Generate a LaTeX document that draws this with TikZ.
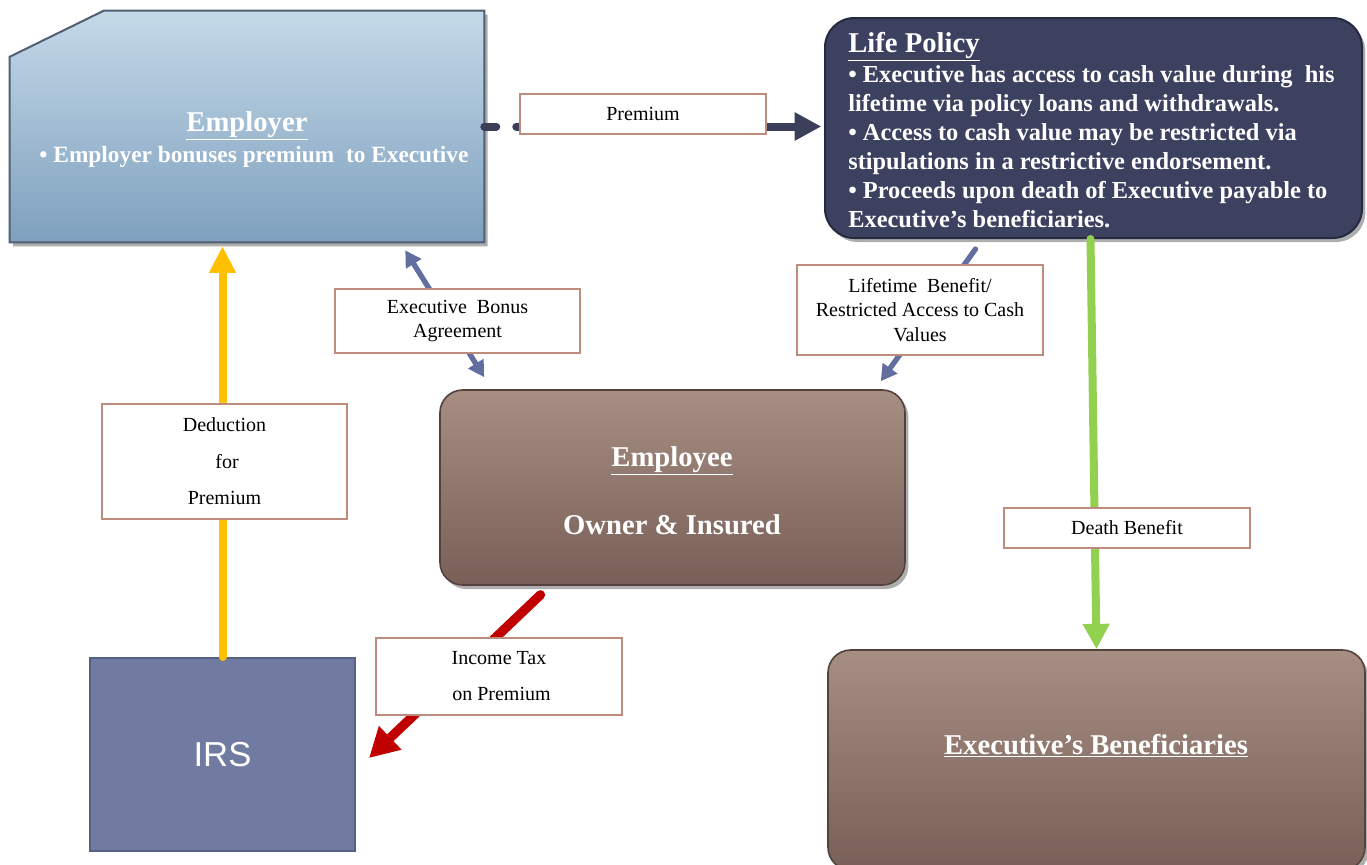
\documentclass[tikz,border=0pt]{standalone}
\usepackage{fontspec}
\setmainfont{Liberation Serif}
\newfontfamily\sansf{Liberation Sans}
\usetikzlibrary{arrows.meta,shadows,calc}
\definecolor{lblbrown}{RGB}{190,140,125}
\definecolor{empTop}{RGB}{197,217,232}
\definecolor{empBot}{RGB}{126,160,190}
\definecolor{empBorder}{RGB}{80,95,115}
\definecolor{polFill}{RGB}{61,65,96}
\definecolor{polBorder}{RGB}{38,42,62}
\definecolor{brTop}{RGB}{166,142,132}
\definecolor{brBot}{RGB}{120,96,88}
\definecolor{brBorder}{RGB}{85,65,60}
\definecolor{irsFill}{RGB}{113,122,160}
\definecolor{irsBorder}{RGB}{88,96,130}
\definecolor{slateArrow}{RGB}{98,110,160}
\definecolor{navyArrow}{RGB}{59,63,90}
\definecolor{yellowArrow}{RGB}{255,192,0}
\definecolor{redArrow}{RGB}{192,0,0}
\definecolor{greenArrow}{RGB}{146,208,80}
\begin{document}
\begin{tikzpicture}[x=0.75pt,y=-0.75pt,
  lbl/.style={draw=lblbrown, line width=1.6pt, fill=white, inner sep=0pt, align=center,
    text=black, font=\fontsize{15pt}{18.4pt}\selectfont},
  shade/.style={drop shadow={shadow xshift=2.5pt, shadow yshift=-3pt, opacity=0.45, fill=black!70}},
  brownbox/.style={rectangle, rounded corners=17pt, top color=brTop, bottom color=brBot,
    draw=brBorder, line width=1.2pt, shade},
  titletext/.style={text=white, font=\fontsize{21.5pt}{24pt}\selectfont\bfseries, inner sep=0pt},
  bodytext/.style={text=white, font=\fontsize{18.3pt}{21.75pt}\selectfont\bfseries, inner sep=0pt, anchor=base west},
  arr/.style={line width=6pt, line cap=round}
]
\useasboundingbox (0,0) rectangle (1367,864);

% Employer (cut-corner box)
\node[minimum width=355.5pt, minimum height=173.25pt, inner sep=0pt] (emp) at (247,126.5) {};
\path[top color=empTop, bottom color=empBot, draw=empBorder, line width=1.5pt, shade]
  (emp.south west) -- ($(emp.north west)+(0,46)$) -- ($(emp.north west)+(94,0)$)
  -- (emp.north east) -- (emp.south east) -- cycle;
\node[titletext, anchor=base] (emptitle) at (247,131) {\underline{Employer}};
\node[text=white, font=\fontsize{17.5pt}{20pt}\selectfont\bfseries, inner sep=0pt, anchor=base] (empbody) at (254,162)
  {• Employer bonuses premium \ to Executive};

% Life Policy
\node[rectangle, rounded corners=22pt, fill=polFill, draw=polBorder, line width=1.5pt,
  minimum width=402.75pt, minimum height=165pt, shade] (policy) at (1093.5,128) {};
\node[titletext, anchor=base west] (pol0) at (848,52) {\underline{Life Policy}};
\node[bodytext] (pol1) at (848,82) {• Executive has access to cash value during \ his};
\node[bodytext] (pol2) at (848,111) {lifetime via policy loans and withdrawals.};
\node[bodytext] (pol3) at (848,140) {• Access to cash value may be restricted via};
\node[bodytext] (pol4) at (848,169) {stipulations in a restrictive endorsement.};
\node[bodytext] (pol5) at (848,198) {• Proceeds upon death of Executive payable to};
\node[bodytext] (pol6) at (848,227) {Executive’s beneficiaries.};

% Employee
\node[brownbox, minimum width=348.75pt, minimum height=146.25pt] (employee) at (672.5,487.5) {};
\node[titletext, anchor=base] (emptitle2) at (672,466) {\underline{Employee}};
\node[titletext, anchor=base] (empsub) at (672,534) {Owner \& Insured};

% IRS
\node[rectangle, fill=irsFill, draw=irsBorder, line width=1.5pt,
  minimum width=198.75pt, minimum height=144.75pt, text=white,
  font=\sansf\fontsize{26pt}{30pt}\selectfont] (irs) at (222.5,754.5) {IRS};

% Executive's Beneficiaries
\node[brownbox, minimum width=402.75pt, minimum height=165pt] (benef) at (1096.5,760) {};
\node[titletext, anchor=base] (beneftitle) at (1096,754) {\underline{Executive’s Beneficiaries}};

% Connectors
\draw[arr, navyArrow, dash pattern=on 9pt off 15pt on 800pt,
  -{Triangle[length=20pt,width=20pt]}, shorten >=2pt] (emp.east) -- (emp.east -| policy.west);
\draw[arr, yellowArrow, -{Triangle[length=20pt,width=19pt]}, shorten >=3pt]
  (irs.north) -- (irs.north |- emp.south);
\draw[line width=4pt, slateArrow, {Triangle[length=12pt,width=13pt]}-{Triangle[length=12pt,width=13pt]}]
  ($(emp.south east)+(-79,8)$) -- ($(employee.north west)+(45,-12)$);
\draw[line width=4pt, line cap=round, slateArrow, -{Triangle[length=12pt,width=13pt]}]
  ($(policy.south)+(-118,10)$) -- ($(employee.north east)+(-25,-8)$);
\draw[line width=7pt, line cap=round, redArrow, -{Triangle[length=22pt,width=23pt]}]
  ($(employee.south)+(-132,9)$) -- ($(irs.east)+(13,3.5)$);
\draw[arr, greenArrow, -{Triangle[length=19pt,width=19pt]}]
  ($(policy.south)+(-3,0)$) -- (benef.north);

% Labels
\node[lbl, minimum width=184.5pt, minimum height=30pt] (prem) at (643,114) {Premium};
\node[lbl, minimum width=184.5pt, minimum height=67.5pt] (lifelbl) at (920,310)
  {Lifetime \ Benefit/\\Restricted Access to Cash\\Values};
\node[lbl, minimum width=183.75pt, minimum height=48pt] (bonus) at (457.5,321)
  {Executive \ Bonus\\Agreement};
\node[lbl, minimum width=183.75pt, minimum height=86.25pt,
  font=\fontsize{15pt}{27.4pt}\selectfont] (deduct) at (224.5,461.5)
  {Deduction\\\ for\\Premium};
\node[lbl, minimum width=184.5pt, minimum height=57.75pt,
  font=\fontsize{15pt}{27pt}\selectfont] (income) at (499,676.5)
  {Income Tax\\\ on Premium};
\node[lbl, minimum width=184.5pt, minimum height=30pt] (death) at (1127,528) {Death Benefit};
\end{tikzpicture}
\end{document}
